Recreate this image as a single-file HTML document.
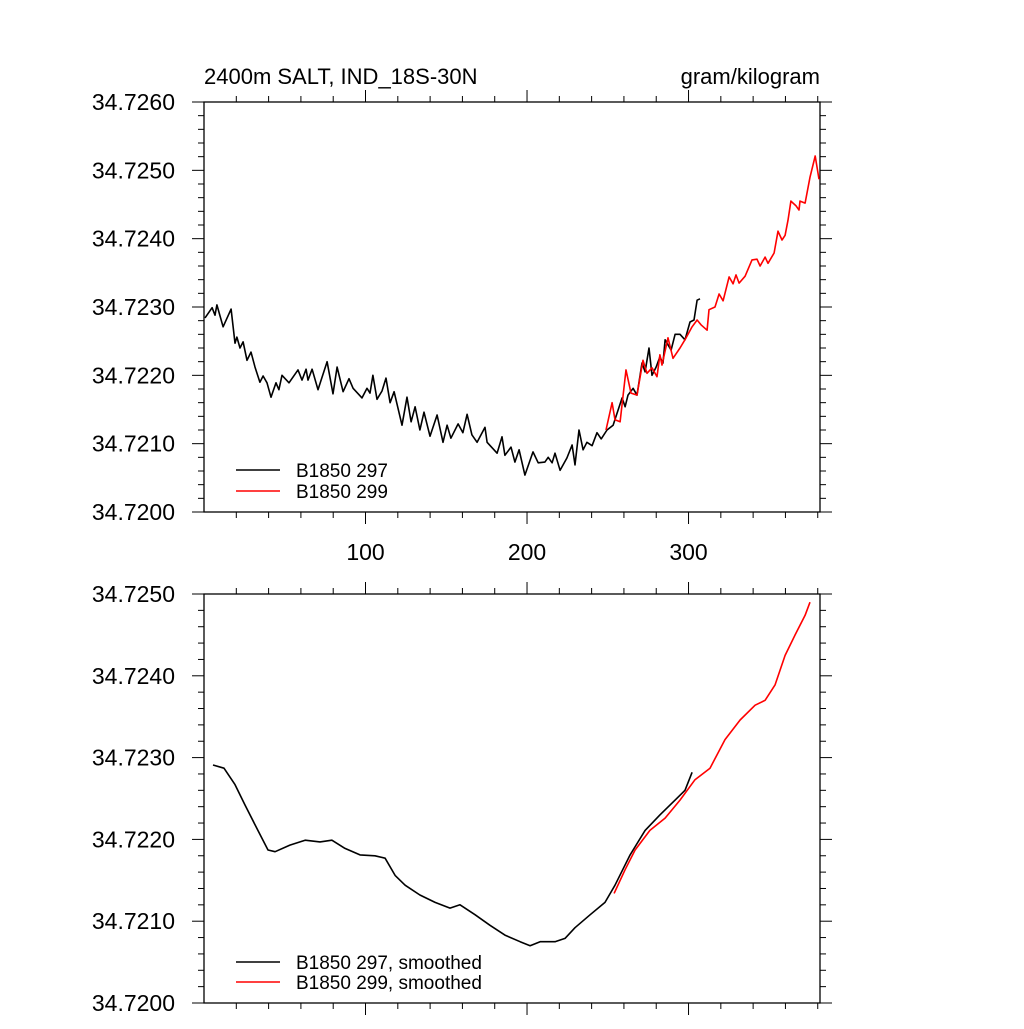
<!DOCTYPE html>
<html><head><meta charset="utf-8"><style>
body{margin:0;background:#fff}
svg text{font-family:"Liberation Sans",sans-serif;fill:#000}
</style></head><body>
<svg id="chart" width="1024" height="1024" xmlns="http://www.w3.org/2000/svg">
<text x="204" y="84" font-size="22">2400m SALT, IND_18S-30N</text>
<text x="820" y="84" font-size="22" text-anchor="end">gram/kilogram</text>
</svg>
<script>
// years and salinity (offset above 34.72, in units of 1e-4 g/kg)
const yearsRaw297 = [0.6,5.0,6.8,8.0,11.8,16.8,19.2,20.4,22.3,24.2,26.6,29.1,31.6,34.6,36.6,39.0,41.5,44.6,46.4,48.3,52.6,58.2,60.7,63.2,64.4,66.9,70.6,76.2,79.9,82.4,86.1,89.8,92.3,97.8,100.9,102.8,104.6,107.1,110.2,112.7,115.2,117.7,122.6,125.7,128.2,130.7,133.7,136.2,139.9,144.3,148.0,150.5,152.9,157.3,160.3,162.9,165.9,169.1,174.0,175.3,181.5,184.5,186.3,190.1,192.5,195.1,198.7,203.7,206.9,211.1,213.1,215.5,217.3,220.5,224.7,227.9,229.7,232.2,234.7,237.1,240.3,243.3,245.9,249.5,253.3,258.9,260.7,262.5,265.7,268.1,271.2,273.1,275.5,277.4,279.9,282.3,284.2,285.5,289.2,291.7,294.7,297.8,300.9,303.4,305.3,307.1];
const saltRaw297 = [28.4,29.9,28.8,30.3,27.1,29.7,24.7,25.6,24.0,24.9,22.2,23.4,21.2,19.0,19.9,18.9,16.8,18.9,17.9,20.0,18.9,20.8,19.3,20.9,19.3,20.9,17.9,22.0,17.3,21.2,17.6,19.5,18.1,16.7,18.1,17.4,20.0,16.5,17.7,19.6,16.0,17.6,12.7,16.8,13.2,15.4,12.0,14.6,11.1,14.2,10.2,12.7,10.8,12.9,11.6,14.3,11.3,10.2,12.4,10.2,8.6,11.0,8.3,9.5,7.3,9.1,5.4,8.8,7.2,7.3,8.0,7.2,8.6,6.1,7.9,9.8,6.9,12.0,9.1,10.2,9.7,11.6,10.7,12.0,12.7,16.7,15.4,17.1,18.1,17.1,21.8,20.5,24.0,20.0,21.2,22.7,21.8,25.2,23.7,26.0,26.0,25.2,27.8,28.1,31.0,31.2];
const yearsRaw299 = [248.9,252.7,254.5,257.6,261.3,264.4,268.1,271.8,274.3,277.4,280.5,282.3,283.6,287.3,290.4,294.7,298.5,302.2,305.3,307.7,311.5,312.7,316.4,318.9,321.4,325.1,327.6,329.4,331.3,335.0,339.3,342.4,344.3,347.4,349.2,353.0,355.4,357.9,359.8,361.6,363.4,366.6,368.4,369.0,372.2,375.2,378.4,380.8];
const saltRaw299 = [12.0,16.0,13.5,13.2,20.8,17.4,17.1,22.2,20.3,21.1,19.8,23.0,21.5,25.5,22.5,24.0,25.5,27.1,28.1,27.4,26.6,29.6,30.0,31.9,30.9,34.4,33.4,34.7,33.5,34.5,36.9,37.0,36.0,37.3,36.4,37.9,41.1,39.8,40.5,42.7,45.5,44.8,44.2,45.5,45.2,49.0,52.1,48.7];
const yearsSm297 = [5.6,12.4,19.2,25.4,33.4,39.6,44.0,53.2,62.6,71.8,79.2,87.3,96.6,105.9,112.1,118.3,124.5,133.7,143.1,152.3,158.5,167.8,177.1,186.3,195.7,201.9,208.1,217.3,223.5,229.7,239.1,248.3,254.5,263.8,273.1,282.3,291.7,297.8,302.2];
const saltSm297 = [29.1,28.7,26.7,24.2,21.1,18.7,18.5,19.3,19.9,19.7,19.9,18.9,18.1,18.0,17.7,15.6,14.4,13.2,12.3,11.6,12.0,10.8,9.5,8.3,7.5,7.0,7.5,7.5,7.9,9.2,10.8,12.3,14.4,18.1,21.1,23.0,24.8,26.0,28.2];
const yearsSm299 = [253.9,260.7,266.9,276.1,285.5,294.7,304.0,313.3,322.6,331.9,341.2,347.4,353.6,359.8,366.0,372.2,375.2];
const saltSm299 = [13.4,16.3,18.7,21.1,22.6,24.8,27.3,28.7,32.2,34.6,36.4,37.0,38.9,42.5,45.0,47.4,49.0];
const xTickLabels = [100,200,300];
const topYTicks = ["34.7200","34.7210","34.7220","34.7230","34.7240","34.7250","34.7260"];
const botYTicks = ["34.7200","34.7210","34.7220","34.7230","34.7240","34.7250"];

const NS="http://www.w3.org/2000/svg";
const svg=document.getElementById('chart');
const L=204,R=820,XMIN=0,XMAX=381.4;
const sx=v=>L+(v-XMIN)/(XMAX-XMIN)*(R-L);
function mk(tag,attrs,parent){const e=document.createElementNS(NS,tag);for(const k in attrs)e.setAttribute(k,attrs[k]);(parent||svg).appendChild(e);return e;}

function panel(name,pTop,pBot,ymax,yTicks,xLabels){
  const g=mk('g',{});
  
  
  const sy=v=>pBot-(v-34.72)/(ymax-34.72)*(pBot-pTop);
  const frame=mk('rect',{x:L,y:pTop,width:R-L,height:pBot-pTop,fill:'none',stroke:'#000','stroke-width':1.3},g);
  
  
  const nMinor=Math.round((ymax-34.72)/0.0002);
  for(let i=0;i<=nMinor;i++){
    const y=sy(34.72+i*0.0002), len=(i%5==0)?12:6;
    mk('line',{x1:L-len,x2:L,y1:y,y2:y,stroke:'#000','stroke-width':1},g);
    mk('line',{x1:R,x2:R+len,y1:y,y2:y,stroke:'#000','stroke-width':1},g);
  }
  yTicks.forEach(t=>{
    const tx=mk('text',{x:175,y:sy(parseFloat(t))+8,'font-size':23,'text-anchor':'end'},g);
    tx.textContent=t;
    
    
  });
  for(let yr=20;yr<XMAX;yr+=20){
    const x=sx(yr),len=(yr%100==0)?12:6;
    mk('line',{x1:x,x2:x,y1:pTop-len,y2:pTop,stroke:'#000','stroke-width':1},g);
    mk('line',{x1:x,x2:x,y1:pBot,y2:pBot+len,stroke:'#000','stroke-width':1},g);
  }
  if(xLabels){
    xLabels.forEach(v=>{
      const tx=mk('text',{x:sx(v),y:pBot+48,'font-size':23,'text-anchor':'middle'},g);
      tx.textContent=v;
      
      
    });
  }
  return {g,sy};
}
function series(g,sy,xs,ys,color,name){
  const d=xs.map((x,i)=>(i?'L':'M')+sx(x).toFixed(1)+','+sy(34.72+ys[i]*1e-4).toFixed(1)).join('');
  const p=mk('path',{d:d,fill:'none',stroke:color,'stroke-width':1.6,'stroke-linejoin':'round'},g);
  
  
}
function legend(g,y,color,label,name){
  const ln=mk('line',{x1:236,x2:280,y1:y,y2:y,stroke:color,'stroke-width':1.6},g);
  
  
  const t=mk('text',{x:296,y:y+7,'font-size':19},g);
  t.textContent=label;
  
  
}
const topPanel=panel('top-panel',102,512,34.726,topYTicks,xTickLabels);
series(topPanel.g,topPanel.sy,yearsRaw297,saltRaw297,'#000','series-297');
series(topPanel.g,topPanel.sy,yearsRaw299,saltRaw299,'#f00','series-299');
legend(topPanel.g,470,'#000','B1850 297','legend-entry-297');
legend(topPanel.g,491,'#f00','B1850 299','legend-entry-299');
const botPanel=panel('bottom-panel',594,1003,34.725,botYTicks,null);
series(botPanel.g,botPanel.sy,yearsSm297,saltSm297,'#000','series-297-smoothed');
series(botPanel.g,botPanel.sy,yearsSm299,saltSm299,'#f00','series-299-smoothed');
legend(botPanel.g,962,'#000','B1850 297, smoothed','legend-entry-297-smoothed');
legend(botPanel.g,982,'#f00','B1850 299, smoothed','legend-entry-299-smoothed');
</script>
</body></html>
